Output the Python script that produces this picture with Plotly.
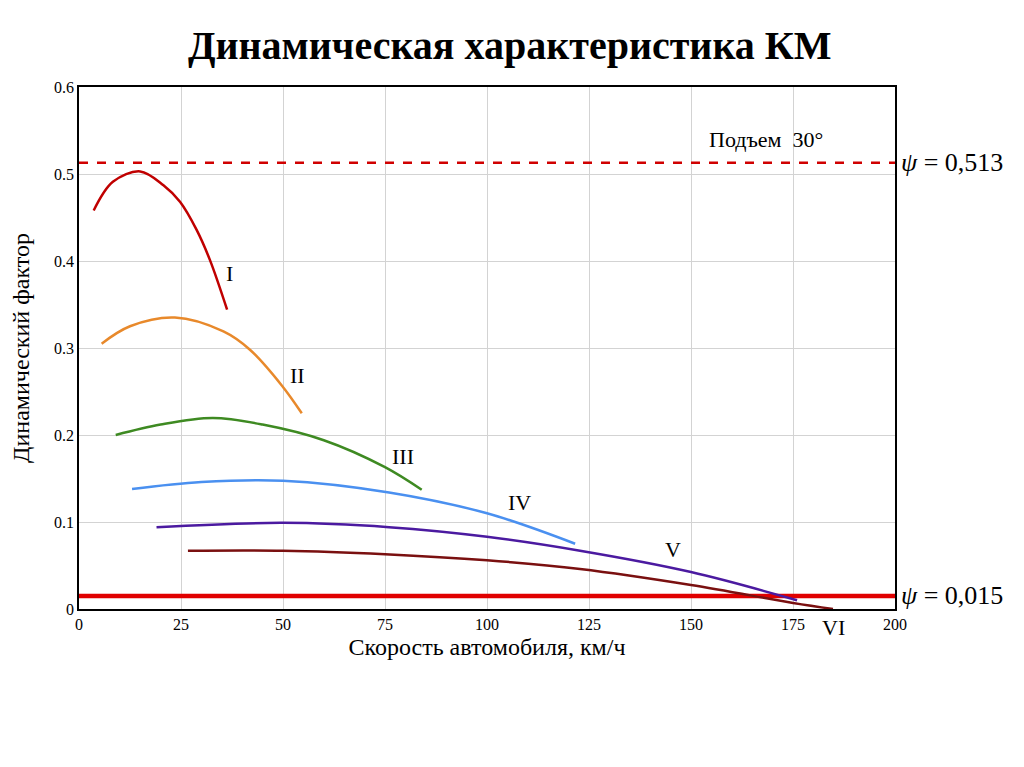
import plotly.graph_objects as go

SERIF = 'Liberation Serif, Times New Roman, serif'

# speed (km/h) and dynamic factor per gear
gear_names = ['I', 'II', 'III', 'IV', 'V', 'VI']
gear_colors = ['#C00000', '#E8892B', '#3E8A22', '#4A90F0', '#4B1AA0', '#7A1010']

v1 = [3.6, 8.3, 15, 20.7, 24.75, 28.8, 32.1, 36.3]
d1 = [0.458, 0.491, 0.503, 0.487, 0.468, 0.436, 0.401, 0.344]

v2 = [5.55, 12.5, 23.5, 35.4, 41.9, 49.7, 54.6]
d2 = [0.305, 0.325, 0.335, 0.319, 0.298, 0.257, 0.225]

v3 = [9, 20, 32.8, 45, 60, 75, 84]
d3 = [0.200, 0.212, 0.2195, 0.212, 0.194, 0.163, 0.137]

v4 = [13, 30, 50, 76, 100, 121.6]
d4 = [0.138, 0.146, 0.1475, 0.134, 0.110, 0.075]

v5 = [19, 50, 76, 100, 122.8, 150, 176]
d5 = [0.094, 0.099, 0.094, 0.083, 0.067, 0.0425, 0.010]

v6 = [26.7, 50, 75, 100, 122.8, 150, 175, 184.8]
d6 = [0.067, 0.067, 0.063, 0.056, 0.046, 0.0276, 0.007, 0.0]

speeds = [v1, v2, v3, v4, v5, v6]
factors = [d1, d2, d3, d4, d5, d6]

# gear label positions
label_x = [37, 53.5, 79.5, 108, 145.5, 185]
label_y = [0.386, 0.268, 0.175, 0.122, 0.068, -0.021]

psi_climb = 0.513
psi_road = 0.015

fig = go.Figure()

fig.add_trace(go.Scatter(
    x=[0, 200], y=[psi_climb, psi_climb], mode='lines',
    line=dict(color='#D00000', width=2.5, dash='dash'),
    hoverinfo='skip',
))
fig.add_trace(go.Scatter(
    x=[0, 200], y=[psi_road, psi_road], mode='lines',
    line=dict(color='#E00000', width=4.5),
    hoverinfo='skip',
))

for v, d, c in zip(speeds, factors, gear_colors):
    fig.add_trace(go.Scatter(
        x=v, y=d, mode='lines', line=dict(color=c, width=2.5, shape='spline'),
    ))

for name, x, y in zip(gear_names, label_x, label_y):
    fig.add_annotation(x=x, y=y / 0.6, yref='paper', yanchor='middle',
                       text=name, showarrow=False,
                       font=dict(family=SERIF, size=22, color='black'))

fig.add_annotation(x=168.4, y=0.54, yanchor='middle', text='Подъем  30°',
                   showarrow=False,
                   font=dict(family=SERIF, size=22, color='black'))
fig.add_annotation(x=1.005, xref='paper', xanchor='left', y=psi_climb,
                   yanchor='middle', text='<i>ψ</i> = 0,513', showarrow=False,
                   font=dict(family=SERIF, size=26, color='black'))
fig.add_annotation(x=1.005, xref='paper', xanchor='left', y=psi_road,
                   yanchor='middle', text='<i>ψ</i> = 0,015', showarrow=False,
                   font=dict(family=SERIF, size=26, color='black'))

fig.update_layout(
    width=1024, height=767,
    paper_bgcolor='white', plot_bgcolor='white',
    showlegend=False,
    margin=dict(l=71, r=137, t=79, b=166),
    title=dict(text='<b>Динамическая характеристика КМ</b>',
               x=0.49, xref='container', xanchor='center',
               y=0.952, yanchor='middle',
               font=dict(family=SERIF, size=40, color='black')),
    xaxis=dict(
        range=[0, 200], tickvals=[0, 25, 50, 75, 100, 125, 150, 175, 200],
        showgrid=True, gridcolor='#D3D3D3', zeroline=False,
        showline=True, linecolor='black', linewidth=1.5, mirror=True,
        ticks='', tickfont=dict(family=SERIF, size=16, color='black'),
        title=dict(text='Скорость автомобиля, км/ч', standoff=6,
                   font=dict(family=SERIF, size=24, color='black')),
    ),
    yaxis=dict(
        range=[0, 0.6], tickvals=[0, 0.1, 0.2, 0.3, 0.4, 0.5, 0.6],
        ticktext=['0', '0.1', '0.2', '0.3', '0.4', '0.5', '0.6'],
        showgrid=True, gridcolor='#D3D3D3', zeroline=False,
        showline=True, linecolor='black', linewidth=1.5, mirror=True,
        ticks='', tickfont=dict(family=SERIF, size=16, color='black'),
        title=dict(text='Динамический фактор', standoff=18,
                   font=dict(family=SERIF, size=24, color='black')),
    ),
)

fig.write_html('out.html')
